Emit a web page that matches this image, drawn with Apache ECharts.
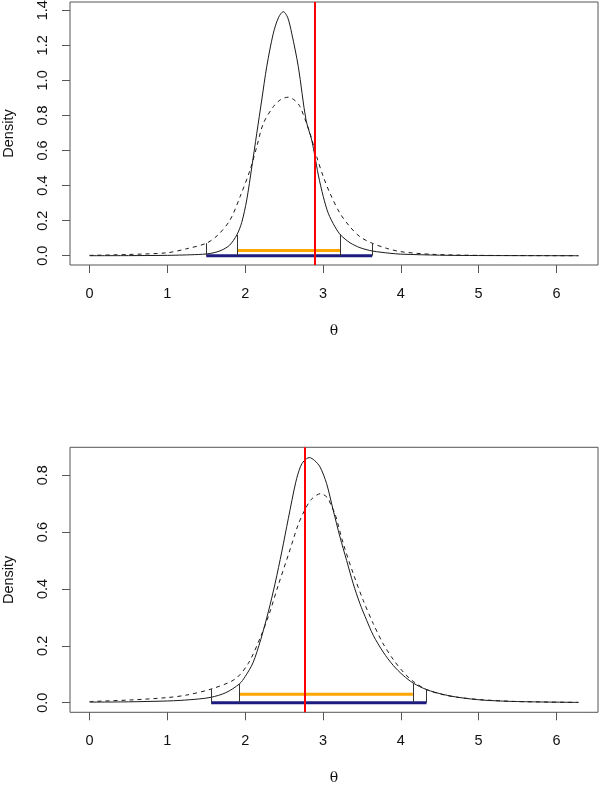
<!DOCTYPE html>
<html>
<head>
<meta charset="utf-8">
<script src="https://cdn.jsdelivr.net/npm/echarts@6/dist/echarts.min.js"></script>
<style>html,body{margin:0;padding:0;background:#fff}#c{width:600px;height:785px}</style>
</head>
<body>
<div id="c"></div>
<script>
// ---- data ----
const xTicks = [0, 1, 2, 3, 4, 5, 6];
const yTicksTop = [0, 0.2, 0.4, 0.6, 0.8, 1.0, 1.2, 1.4];
const yTicksBottom = [0, 0.2, 0.4, 0.6, 0.8];

// top panel: solid density
const topSolid = [[0,0.0],[0.5,0.0005],[1.0,0.002],[1.2,0.004],[1.4,0.007],[1.5,0.01],[1.6,0.017],[1.7,0.032],[1.8,0.06],
  [1.892,0.118],[1.956,0.19],[2.02,0.318],[2.085,0.505],[2.149,0.698],[2.213,0.888],[2.277,1.078],[2.362,1.269],[2.43,1.36],
  [2.49,1.392],[2.545,1.36],[2.598,1.269],[2.683,1.078],[2.782,0.774],[2.855,0.66],[2.897,0.565],[2.94,0.46],[3.004,0.337],
  [3.068,0.242],[3.154,0.165],[3.227,0.118],[3.347,0.074],[3.475,0.046],[3.633,0.027],[3.86,0.014],[4.0,0.009],[4.5,0.003],
  [5.0,0.001],[6.283,0.0]];
// top panel: dashed density
const topDashed = [[0,0.002],[0.5,0.007],[1.0,0.017],[1.25,0.04],[1.5,0.071],[1.65,0.118],[1.806,0.204],[1.935,0.337],
  [2.063,0.489],[2.149,0.622],[2.234,0.755],[2.362,0.85],[2.455,0.89],[2.555,0.904],[2.64,0.885],[2.705,0.85],[2.833,0.698],
  [2.919,0.565],[3.004,0.451],[3.09,0.356],[3.218,0.242],[3.347,0.165],[3.475,0.108],[3.633,0.071],[3.818,0.042],
  [4.0,0.023],[4.4,0.008],[5.0,0.002],[6.283,0.0]];
// top panel intervals [lower, upper] and bracket heights
const topSolidInt = [1.9, 3.227], topSolidH = [0.118, 0.12];
const topDashedInt = [1.5, 3.633], topDashedH = [0.071, 0.071];
const topRed = 2.897;

// bottom panel: solid density
const botSolid = [[0,0.002],[0.5,0.003],[1.0,0.006],[1.164,0.008],[1.4,0.013],[1.562,0.019],[1.75,0.035],[1.926,0.066],
  [2.0,0.092],[2.1,0.14],[2.2,0.222],[2.3,0.322],[2.385,0.42],[2.47,0.53],[2.555,0.648],[2.65,0.775],[2.71,0.83],[2.756,0.85],
  [2.824,0.862],[2.89,0.852],[2.962,0.829],[3.047,0.77],[3.132,0.676],[3.218,0.583],[3.304,0.5],[3.389,0.418],[3.475,0.348],
  [3.561,0.29],[3.646,0.237],[3.774,0.178],[3.903,0.131],[4.031,0.096],[4.159,0.069],[4.331,0.046],[4.545,0.029],
  [4.759,0.018],[5.06,0.009],[5.5,0.004],[6.283,0.001]];
// bottom panel: dashed density
const botDashed = [[0,0.004],[0.56,0.01],[1.0,0.018],[1.25,0.027],[1.562,0.048],[1.87,0.083],[2.04,0.138],[2.19,0.226],
  [2.31,0.313],[2.425,0.413],[2.555,0.52],[2.68,0.625],[2.756,0.672],[2.85,0.715],[2.97,0.735],[3.06,0.72],[3.11,0.69],
  [3.154,0.665],[3.261,0.559],[3.389,0.454],[3.517,0.36],[3.646,0.278],[3.774,0.207],[3.903,0.152],[4.031,0.108],
  [4.159,0.075],[4.331,0.046],[4.545,0.028],[4.759,0.018],[5.06,0.01],[5.5,0.004],[6.283,0.001]];
const botSolidInt = [1.926, 4.155], botSolidH = [0.066, 0.068];
const botDashedInt = [1.562, 4.331], botDashedH = [0.048, 0.046];
const botRed = 2.756;
const orangeLevel = 0.03;

// ---- chart ----
const FONT = 'Liberation Sans, Arial, sans-serif';
const TXT = '#111';
function xAx(gi) {
  return {
    type: 'value', gridIndex: gi, min: -0.2513, max: 6.5345,
    name: 'θ', nameLocation: 'middle', nameGap: 59,
    nameTextStyle: {fontFamily: 'DejaVu Serif, Liberation Serif, serif', fontSize: 14, color: TXT},
    axisLine: {show: false, onZero: false},
    axisTick: {show: true, length: 8, customValues: xTicks, lineStyle: {color: '#555', width: 1}},
    axisLabel: {customValues: xTicks, margin: 21, fontFamily: FONT, fontSize: 14.5, color: TXT},
    splitLine: {show: false}
  };
}
function yAx(gi, min, max, ticks) {
  return {
    type: 'value', gridIndex: gi, min: min, max: max,
    name: 'Density', nameLocation: 'middle', nameGap: 54,
    nameTextStyle: {fontFamily: FONT, fontSize: 14.5, color: TXT},
    axisLine: {show: false, onZero: false},
    axisTick: {show: true, length: 8, customValues: ticks, lineStyle: {color: '#555', width: 1}},
    axisLabel: {customValues: ticks, margin: 20, rotate: 90, fontFamily: FONT, fontSize: 14.5, color: TXT,
      formatter: v => v.toFixed(1)},
    splitLine: {show: false}
  };
}
function curve(gi, data, dashed) {
  return {
    type: 'line', xAxisIndex: gi, yAxisIndex: gi, data: data, showSymbol: false, smooth: 0.3,
    lineStyle: {color: '#1a1a1a', width: 1, type: dashed ? [4, 4] : 'solid'},
    silent: true, z: 2, animation: false
  };
}
function brackets(gi, intS, hS, intD, hD) {
  const segs = [];
  for (let i = 0; i < 2; i++) {
    segs.push([{coord: [intS[i], 0]}, {coord: [intS[i], hS[i]]}]);
    segs.push([{coord: [intD[i], 0]}, {coord: [intD[i], hD[i]]}]);
  }
  return {
    type: 'line', xAxisIndex: gi, yAxisIndex: gi, data: [], z: 3, silent: true,
    markLine: {symbol: 'none', silent: true, animation: false, label: {show: false},
      lineStyle: {color: '#333', width: 1, type: 'solid'}, data: segs}
  };
}
function hline(gi, int, level, color) {
  return {
    type: 'line', xAxisIndex: gi, yAxisIndex: gi, showSymbol: false, silent: true, z: 4, animation: false,
    data: [[int[0], level], [int[1], level]],
    lineStyle: {color: color, width: 3}
  };
}
function red(gi, x) {
  return {
    type: 'line', xAxisIndex: gi, yAxisIndex: gi, data: [], z: 5, silent: true,
    markLine: {symbol: 'none', silent: true, animation: false, label: {show: false},
      lineStyle: {color: '#ff0000', width: 2, type: 'solid'}, data: [{xAxis: x}]}
  };
}

const chart = echarts.init(document.getElementById('c'), null, {renderer: 'canvas'});
chart.setOption({
  animation: false,
  backgroundColor: '#fff',
  grid: [
    {left: 70, right: 2, top: 2, height: 263, show: true, borderColor: '#555', borderWidth: 1,
      backgroundColor: 'transparent', outerBoundsMode: 'none', containLabel: false},
    {left: 70, right: 2, top: 447.3, height: 265, show: true, borderColor: '#555', borderWidth: 1,
      backgroundColor: 'transparent', outerBoundsMode: 'none', containLabel: false}
  ],
  xAxis: [xAx(0), xAx(1)],
  yAxis: [yAx(0, -0.053, 1.447, yTicksTop), yAx(1, -0.0338, 0.898, yTicksBottom)],
  series: [
    curve(0, topSolid, false), curve(0, topDashed, true),
    brackets(0, topSolidInt, topSolidH, topDashedInt, topDashedH),
    hline(0, topSolidInt, orangeLevel, '#ffa500'), hline(0, topDashedInt, 0, '#1c1c80'),
    red(0, topRed),
    curve(1, botSolid, false), curve(1, botDashed, true),
    brackets(1, botSolidInt, botSolidH, botDashedInt, botDashedH),
    hline(1, botSolidInt, orangeLevel, '#ffa500'), hline(1, botDashedInt, 0, '#1c1c80'),
    red(1, botRed)
  ]
});
</script>
</body>
</html>
